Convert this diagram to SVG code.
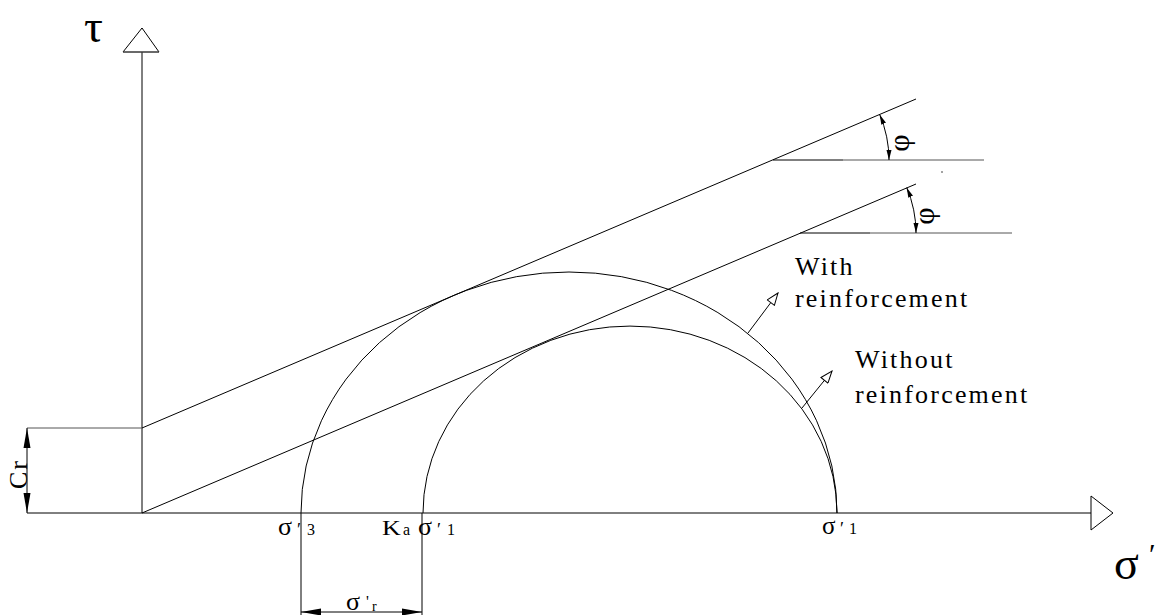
<svg xmlns="http://www.w3.org/2000/svg" width="1162" height="615" viewBox="0 0 1162 615">
<style>
  .ln { fill: none; stroke: #000; stroke-width: 1; }
  .gr { fill: none; stroke: #555; stroke-width: 1; }
  .t { font-family: "Liberation Serif", "Times New Roman", serif; fill: #000; }
  .lbl { font-family: "Liberation Serif", "Times New Roman", serif; font-size: 26px; letter-spacing: 2.2px; fill: #000; }
</style>
<defs>
  <marker id="fa" viewBox="0 0 10 10" refX="10" refY="5" markerWidth="10" markerHeight="10" markerUnits="userSpaceOnUse" orient="auto-start-reverse">
    <path d="M0,2.5 L10,5 L0,7.5 Z" fill="#000"/>
  </marker>
  <marker id="da" viewBox="0 0 20 8" refX="20" refY="4" markerWidth="20" markerHeight="8" markerUnits="userSpaceOnUse" orient="auto-start-reverse">
    <path d="M0,0.5 L20,4 L0,7.5 Z" fill="#000"/>
  </marker>
  <marker id="oa" viewBox="0 0 14 10" refX="13" refY="5" markerWidth="14" markerHeight="10" markerUnits="userSpaceOnUse" orient="auto">
    <path d="M1,0.5 L13,5 L1,9.5 Z" fill="#fff" stroke="#000" stroke-width="1"/>
  </marker>
</defs>
<rect width="1162" height="615" fill="#fff"/>

<g id="axes">
  <line class="ln" x1="142" y1="513" x2="142" y2="28"/>
  <path d="M142,28 L123,52 L159,52 Z" fill="#fff" stroke="#000" stroke-width="1"/>
  <line class="gr" x1="123" y1="52" x2="159" y2="52"/>
  <line class="ln" x1="27" y1="513" x2="1091" y2="513"/>
  <path d="M1113,513 L1091,496 L1091,530 Z" fill="#fff" stroke="#000" stroke-width="1"/>
  <text class="t" x="84" y="42" font-size="47">τ</text>
  <text class="t" x="1114" y="579" font-size="46">σ</text>
  <text class="t" x="1149" y="564" font-size="30">′</text>
</g>

<g id="cr-dimension">
  <line class="gr" x1="27" y1="428" x2="142" y2="428"/>
  <line class="ln" x1="27" y1="428" x2="27" y2="513" marker-start="url(#da)" marker-end="url(#da)"/>
  <text class="t" x="0" y="0" font-size="26" transform="translate(27,489) rotate(-90)" letter-spacing="2">Cr</text>
</g>

<g id="envelope-with">
  <line class="ln" x1="142" y1="428" x2="916" y2="99"/>
  <line class="ln" x1="773" y1="160" x2="843" y2="160" stroke-width="1.4"/>
  <line class="gr" x1="843" y1="160" x2="984" y2="160"/>
  <path class="ln" d="M879.7,114.6 A116,116 0 0 1 889,160" marker-start="url(#fa)" marker-end="url(#fa)"/>
  <text class="t" x="0" y="8" font-size="30" text-anchor="middle" transform="translate(901,143) rotate(-90)">φ</text>
</g>

<g id="envelope-without">
  <line class="ln" x1="142" y1="513" x2="916" y2="184"/>
  <line class="ln" x1="800" y1="233" x2="870" y2="233" stroke-width="1.4"/>
  <line class="gr" x1="870" y1="233" x2="1012" y2="233"/>
  <path class="ln" d="M906.7,187.6 A116,116 0 0 1 916,233" marker-start="url(#fa)" marker-end="url(#fa)"/>
  <text class="t" x="0" y="8" font-size="30" text-anchor="middle" transform="translate(926,216) rotate(-90)">φ</text>
  <circle cx="942" cy="172" r="0.7" fill="#000"/>
</g>

<g id="circle-with">
  <path class="ln" d="M301,513 A268,241 0 0 1 837,513"/>
</g>
<g id="circle-without">
  <path class="ln" d="M423,513 A207,187 0 0 1 837,513"/>
</g>

<g id="label-with">
  <text class="lbl" x="795" y="275">With</text>
  <text class="lbl" x="795" y="307">reinforcement</text>
</g>
<g id="label-without">
  <text class="lbl" x="855" y="368">Without</text>
  <text class="lbl" x="855" y="403">reinforcement</text>
</g>

<g id="connectors">
  <line class="ln" x1="748" y1="333" x2="778" y2="293" marker-end="url(#oa)"/>
  <line class="ln" x1="802" y1="408" x2="832" y2="371" marker-end="url(#oa)"/>
</g>

<g id="axis-labels">
  <text class="t" x="278" y="535" font-size="26">σ</text>
  <text class="t" x="297" y="536" font-size="18">′</text>
  <text class="t" x="307" y="535" font-size="16">3</text>

  <text class="t" x="382" y="535" font-size="20" transform="translate(382,535) scale(1.3,1) translate(-382,-535)">K</text>
  <text class="t" x="403" y="535" font-size="16">a</text>
  <text class="t" x="418" y="535" font-size="26">σ</text>
  <text class="t" x="437" y="536" font-size="18">′</text>
  <text class="t" x="447" y="535" font-size="16">1</text>

  <text class="t" x="822" y="534" font-size="25">σ</text>
  <text class="t" x="840" y="535" font-size="18">′</text>
  <text class="t" x="849" y="534" font-size="16">1</text>
</g>

<g id="sigma-r-dimension">
  <line class="ln" x1="301" y1="513" x2="301" y2="615"/>
  <line class="ln" x1="422" y1="513" x2="422" y2="615"/>
  <line class="ln" x1="301" y1="612" x2="422" y2="612" marker-start="url(#da)" marker-end="url(#da)"/>
  <text class="t" x="346" y="610" font-size="26">σ</text>
  <text class="t" x="366" y="607" font-size="16">'</text>
  <text class="t" x="372" y="611" font-size="14">r</text>
</g>
</svg>
